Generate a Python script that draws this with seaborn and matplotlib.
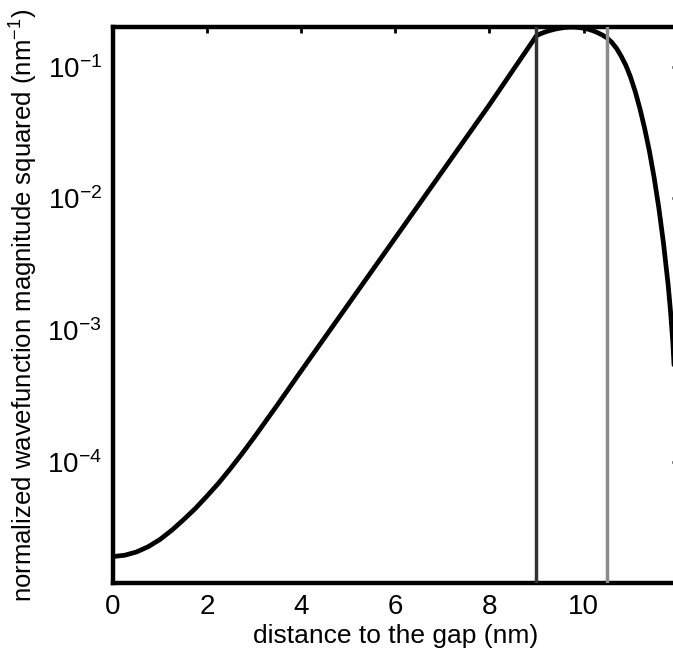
import numpy as np
import pandas as pd
import matplotlib
matplotlib.use("Agg")
import matplotlib.pyplot as plt
import seaborn as sns
from matplotlib.ticker import LogFormatterMathtext, NullLocator

# Probability density |psi|^2 versus distance from the gap (nm)
distance_nm = [0.0, 0.25, 0.5, 0.75, 1.0, 1.25, 1.5, 1.75, 2.0, 2.25, 2.5,
               2.75, 3.0, 3.5, 4.0, 5.0, 6.0, 7.0, 8.0,
               9.0, 9.1, 9.2, 9.3, 9.4, 9.5, 9.6, 9.7, 9.8, 9.9, 10.0,
               10.1, 10.2, 10.3, 10.4, 10.5, 10.6, 10.7, 10.8, 10.9, 11.0,
               11.1, 11.2, 11.3, 11.4, 11.5, 11.6, 11.7, 11.8, 11.85, 11.9,
               11.95, 12.0]
density = [1.905e-5, 1.95e-5, 2.065e-5, 2.265e-5, 2.57e-5, 3.02e-5, 3.63e-5,
           4.415e-5, 5.50e-5, 6.92e-5, 8.91e-5, 1.161e-4, 1.531e-4, 2.72e-4,
           4.90e-4, 1.567e-3, 5.01e-3, 1.603e-2, 5.13e-2,
           0.1718, 0.1786, 0.1841, 0.1888, 0.1928, 0.1959, 0.1982, 0.1995,
           0.1995, 0.1982, 0.1959, 0.1923, 0.1875, 0.1811, 0.1738, 0.1652,
           0.1531, 0.1380, 0.1202, 0.1023, 0.0832, 0.0646, 0.0479, 0.0339,
           0.0229, 0.01445, 8.51e-3, 4.57e-3, 2.19e-3, 1.38e-3, 7.94e-4,
           3.55e-4, 1.26e-5]

# Region boundaries marked with vertical lines
boundary_dark = 9.0
boundary_gray = 10.5

x_ticks = [0, 2, 4, 6, 8, 10]
y_ticks = [1e-4, 1e-3, 1e-2, 1e-1]

sns.set_theme(style="white")
plt.rcParams["font.family"] = ["Liberation Sans", "DejaVu Sans"]
plt.rcParams["mathtext.fontset"] = "custom"
plt.rcParams["mathtext.rm"] = "Liberation Sans"
plt.rcParams["mathtext.it"] = "Liberation Sans:italic"
plt.rcParams["mathtext.default"] = "regular"
plt.rcParams["text.color"] = "black"
plt.rcParams["axes.labelcolor"] = "black"

fig = plt.figure(figsize=(6.73, 6.54), dpi=100)
ax = fig.add_axes([113 / 673, 71 / 654, 564.6 / 673, 556 / 654])

df = pd.DataFrame({"distance": distance_nm, "density": density})
sns.lineplot(data=df, x="distance", y="density", ax=ax, color="black",
             linewidth=3.4, zorder=3)

ax.axvline(boundary_dark, color="#333333", linewidth=2.5, zorder=4)
ax.axvline(boundary_gray, color="#8c8c8c", linewidth=2.5, zorder=4)

ax.set_yscale("log")
ax.set_xlim(0, 12)
ax.set_ylim(1.2e-5, 0.2)
ax.set_xticks(x_ticks)
ax.set_xticklabels([str(t) for t in x_ticks])
ax.set_yticks(y_ticks)
ax.yaxis.set_major_formatter(LogFormatterMathtext())
ax.yaxis.set_minor_locator(NullLocator())

ax.set_xlabel("distance to the gap (nm)", fontsize=19, labelpad=3,
              color="black")
ax.set_ylabel("normalized wavefunction magnitude squared (nm$^{-1}$)",
              fontsize=18.5, labelpad=5, color="black")

ax.tick_params(axis="both", which="major", direction="in", length=4,
               width=2.0, labelsize=20, top=True, right=True,
               colors="black", labelcolor="black", pad=8)
for side in ["left", "bottom", "top", "right"]:
    ax.spines[side].set_visible(True)
    ax.spines[side].set_linewidth(3.2)
    ax.spines[side].set_color("black")
ax.grid(False)

fig.savefig("out.png", dpi=100, facecolor="white")
